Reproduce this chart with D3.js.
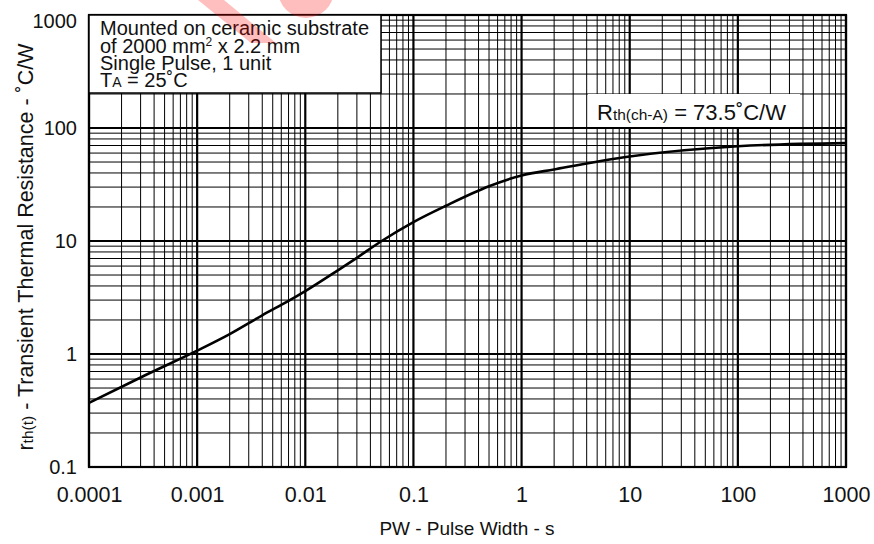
<!DOCTYPE html>
<html lang="en">
  <head>
    <meta charset="UTF-8" />
    <title>Transient Thermal Resistance</title>
    <style>
      body { margin: 0; background: #fff; }
      text { font-family: "Liberation Sans", Arial, sans-serif; fill: #111; }
    </style>
  </head>
  <body>
    <svg id="svg" width="874" height="544"></svg>

    <script src="https://d3js.org/d3.v7.min.js"></script>
    <script>
      // values
      const pulseWidth = [0.0001, 0.0003, 0.001, 0.002, 0.004, 0.007, 0.01, 0.02, 0.03, 0.05, 0.1, 0.2, 0.5, 1, 2, 10, 100, 1000];
      const rthValues = [0.37, 0.62, 1.07, 1.5, 2.2, 2.95, 3.6, 5.5, 7.1, 9.9, 14.7, 20.5, 30.5, 38, 43, 56, 69, 73.5];

      const xTickValues = [0.0001, 0.001, 0.01, 0.1, 1, 10, 100, 1000];
      const xTickLabels = ["0.0001", "0.001", "0.01", "0.1", "1", "10", "100", "1000"];
      const yTickValues = [0.1, 1, 10, 100, 1000];
      const yTickLabels = ["0.1", "1", "10", "100", "1000"];

      const margin = { top: 15, right: 28, bottom: 77, left: 89 };
      const width = 874, height = 544;

      const svg = d3.select("#svg");

      const xScale = d3
        .scaleLog()
        .domain([0.0001, 1000])
        .range([margin.left, width - margin.right]);

      const yScale = d3
        .scaleLog()
        .domain([0.1, 1000])
        .range([height - margin.bottom, margin.top]);

      const isDecade = (v) => Math.abs(Math.log10(v) - Math.round(Math.log10(v))) < 1e-9;

      // grid
      const grid = svg.append("g");
      grid
        .selectAll("line.vx")
        .data(xScale.ticks())
        .enter()
        .append("line")
        .attr("x1", (d) => xScale(d))
        .attr("x2", (d) => xScale(d))
        .attr("y1", margin.top)
        .attr("y2", height - margin.bottom)
        .attr("stroke", "#000")
        .attr("stroke-width", (d) => (isDecade(d) ? 2.2 : 1));

      grid
        .selectAll("line.hy")
        .data(yScale.ticks())
        .enter()
        .append("line")
        .attr("y1", (d) => yScale(d))
        .attr("y2", (d) => yScale(d))
        .attr("x1", margin.left)
        .attr("x2", width - margin.right)
        .attr("stroke", "#000")
        .attr("stroke-width", (d) => (isDecade(d) ? 2.2 : 1));

      // curve
      const line = d3
        .line()
        .x((d, i) => xScale(pulseWidth[i]))
        .y((d) => yScale(d))
        .curve(d3.curveMonotoneX);

      svg
        .append("path")
        .datum(rthValues)
        .attr("d", line)
        .attr("fill", "none")
        .attr("stroke", "#000")
        .attr("stroke-width", 2.6);

      // frame
      svg
        .append("rect")
        .attr("x", margin.left)
        .attr("y", margin.top)
        .attr("width", width - margin.left - margin.right)
        .attr("height", height - margin.top - margin.bottom)
        .attr("fill", "none")
        .attr("stroke", "#000")
        .attr("stroke-width", 2.2);

      // axes (labels only)
      const xAxis = svg
        .append("g")
        .attr("transform", `translate(0,${height - margin.bottom})`)
        .call(
          d3.axisBottom(xScale)
            .tickValues(xTickValues)
            .tickFormat((d, i) => xTickLabels[i])
            .tickSize(0)
            .tickPadding(20)
        );
      xAxis.select(".domain").remove();
      xAxis.selectAll("text").style("font-size", "21.5px").attr("fill", "#111");

      const yAxis = svg
        .append("g")
        .attr("transform", `translate(${margin.left},0)`)
        .call(
          d3.axisLeft(yScale)
            .tickValues(yTickValues)
            .tickFormat((d, i) => yTickLabels[i])
            .tickSize(0)
            .tickPadding(12)
        );
      yAxis.select(".domain").remove();
      yAxis.selectAll("text").style("font-size", "20px").attr("fill", "#111");
      yAxis.selectAll("text").filter((d) => d === 1000).attr("dy", "0.6em");

      // axis titles
      svg
        .append("text")
        .attr("x", 467)
        .attr("y", 535)
        .attr("text-anchor", "middle")
        .style("font-size", "19px")
        .text("PW - Pulse Width - s");

      const yTitle = svg
        .append("text")
        .attr("transform", "translate(33,247) rotate(-90)")
        .attr("text-anchor", "middle")
        .style("font-size", "21.5px");
      yTitle.append("tspan").text("r");
      yTitle.append("tspan").style("font-size", "15.5px").text("th(t)");
      yTitle.append("tspan").text(" - Transient Thermal Resistance - ˚C/W");

      // note box
      svg
        .append("rect")
        .attr("x", margin.left)
        .attr("y", margin.top)
        .attr("width", 292)
        .attr("height", 78)
        .attr("fill", "#fff")
        .attr("stroke", "#000")
        .attr("stroke-width", 1.5);

      const note = svg.append("g").style("font-size", "20px");
      note.append("text").attr("x", 100).attr("y", 35).text("Mounted on ceramic substrate");
      const l2 = note.append("text").attr("x", 100).attr("y", 52.5);
      l2.append("tspan").text("of 2000 mm");
      l2.append("tspan").attr("dy", -7).style("font-size", "12px").text("2");
      l2.append("tspan").attr("dy", 7).text(" x 2.2 mm");
      note.append("text").attr("x", 100).attr("y", 70).text("Single Pulse, 1 unit");
      const l4 = note.append("text").attr("x", 100).attr("y", 87);
      l4.append("tspan").text("T");
      l4.append("tspan").style("font-size", "14px").text("A");
      l4.append("tspan").text(" = 25˚C");

      // Rth box
      svg
        .append("rect")
        .attr("x", 588)
        .attr("y", 94)
        .attr("width", 212)
        .attr("height", 33)
        .attr("fill", "#fff");

      const rth = svg.append("text").attr("x", 597).attr("y", 120).style("font-size", "22px");
      rth.append("tspan").text("R");
      rth.append("tspan").style("font-size", "15.5px").text("th(ch-A)");
      rth.append("tspan").text(" = 73.5˚C/W");

      // faint watermark at top
      const wm = svg.append("g").attr("fill", "rgb(255,0,0)").attr("opacity", 0.25);
      wm.append("path").attr("d", "M198,0 L224,0 L276,43 L251,43 Z");
      wm.append("circle").attr("cx", 306).attr("cy", -10).attr("r", 28);
    </script>
  </body>
</html>
